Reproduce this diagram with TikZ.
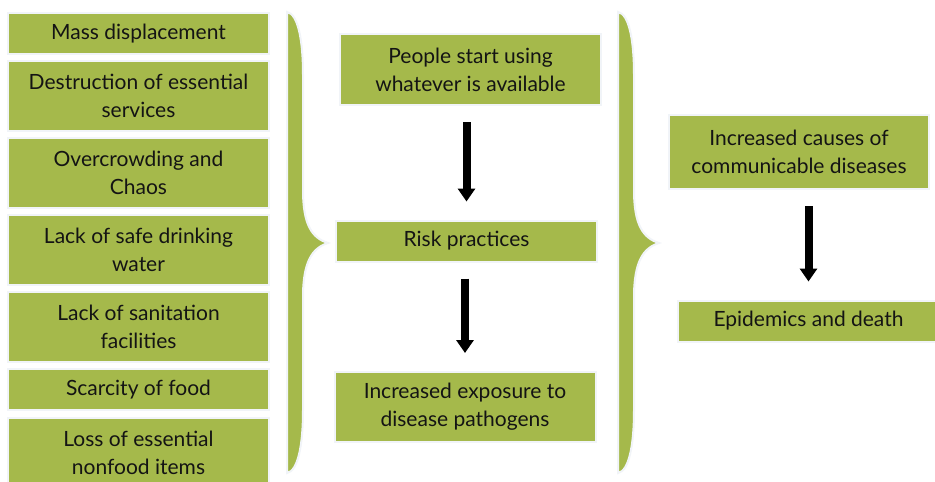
\documentclass[tikz,border=0pt]{standalone}
\usepackage{fontspec}
\setmainfont{Lato}
\usetikzlibrary{positioning,arrows.meta}
\definecolor{leaf}{RGB}{165,185,75}
\definecolor{glow}{RGB}{241,244,248}
\definecolor{ink}{RGB}{20,20,20}
\tikzset{
    green-box/.style = {fill=leaf, draw=glow, line width=2pt, outer sep=0pt, text=ink, align=center, inner sep=0pt, minimum width=261pt, font=\fontsize{21}{28}\selectfont},
    short-box/.style = {green-box, minimum height=41pt},
    tall-box/.style = {green-box, minimum height=70pt},
    flow-arrow/.style = {draw=black, line width=8pt, -{Triangle[length=13pt,width=17pt]}, shorten <=17pt, shorten >=19pt},
    brace-shape/.style = {fill=leaf, draw=glow, line width=2pt},
}

\begin{document}
\begin{tikzpicture}[x=1pt, y=-1pt]
\fill[white] (0,0) rectangle (935,482);
\useasboundingbox (0,0) rectangle (935,482);

\node[short-box] (mass) at (138.5,33.5) {Mass displacement};
\node[tall-box, below=7pt of mass] (services) {Destruction of essential\\services};
\node[tall-box, below=7pt of services] (crowd) {Overcrowding and\\Chaos};
\node[tall-box, below=7pt of crowd] (water) {Lack of safe drinking\\water};
\node[tall-box, below=7pt of water] (sanitation) {Lack of sanitation\\facilities};
\node[short-box, below=7pt of sanitation] (food) {Scarcity of food};
\node[tall-box, below=8pt of food] (nonfood) {Loss of essential\\nonfood items};

\foreach \bx in {0,331} {
    \path[brace-shape, xshift=\bx pt] (287,12) .. controls (298,14) and (303,40) .. (303,75) -- (303,190)
        .. controls (303,225) and (312,238) .. (328,243) .. controls (312,248) and (303,262) .. (303,297)
        -- (303,410) .. controls (303,445) and (298,471) .. (287,473) -- cycle;
}

\node[tall-box, minimum height=71pt] (using) at (470.5,69.5) {People start using\\whatever is available};
\node[short-box] (risk) at (466.5,241) {Risk practices};
\node[tall-box] (exposure) at (465,407) {Increased exposure to\\disease pathogens};

\node[tall-box, minimum height=74pt, minimum width=260pt] (causes) at (799,152) {Increased causes of\\communicable diseases};
\node[short-box] (epidemics) at (808.5,321) {Epidemics and death};

\draw[flow-arrow] (risk.north |- using.south) -- (risk.north);
\draw[flow-arrow] (exposure.north |- risk.south) -- (exposure.north);
\draw[flow-arrow] (epidemics.north |- causes.south) -- (epidemics.north);
\end{tikzpicture}
\end{document}
